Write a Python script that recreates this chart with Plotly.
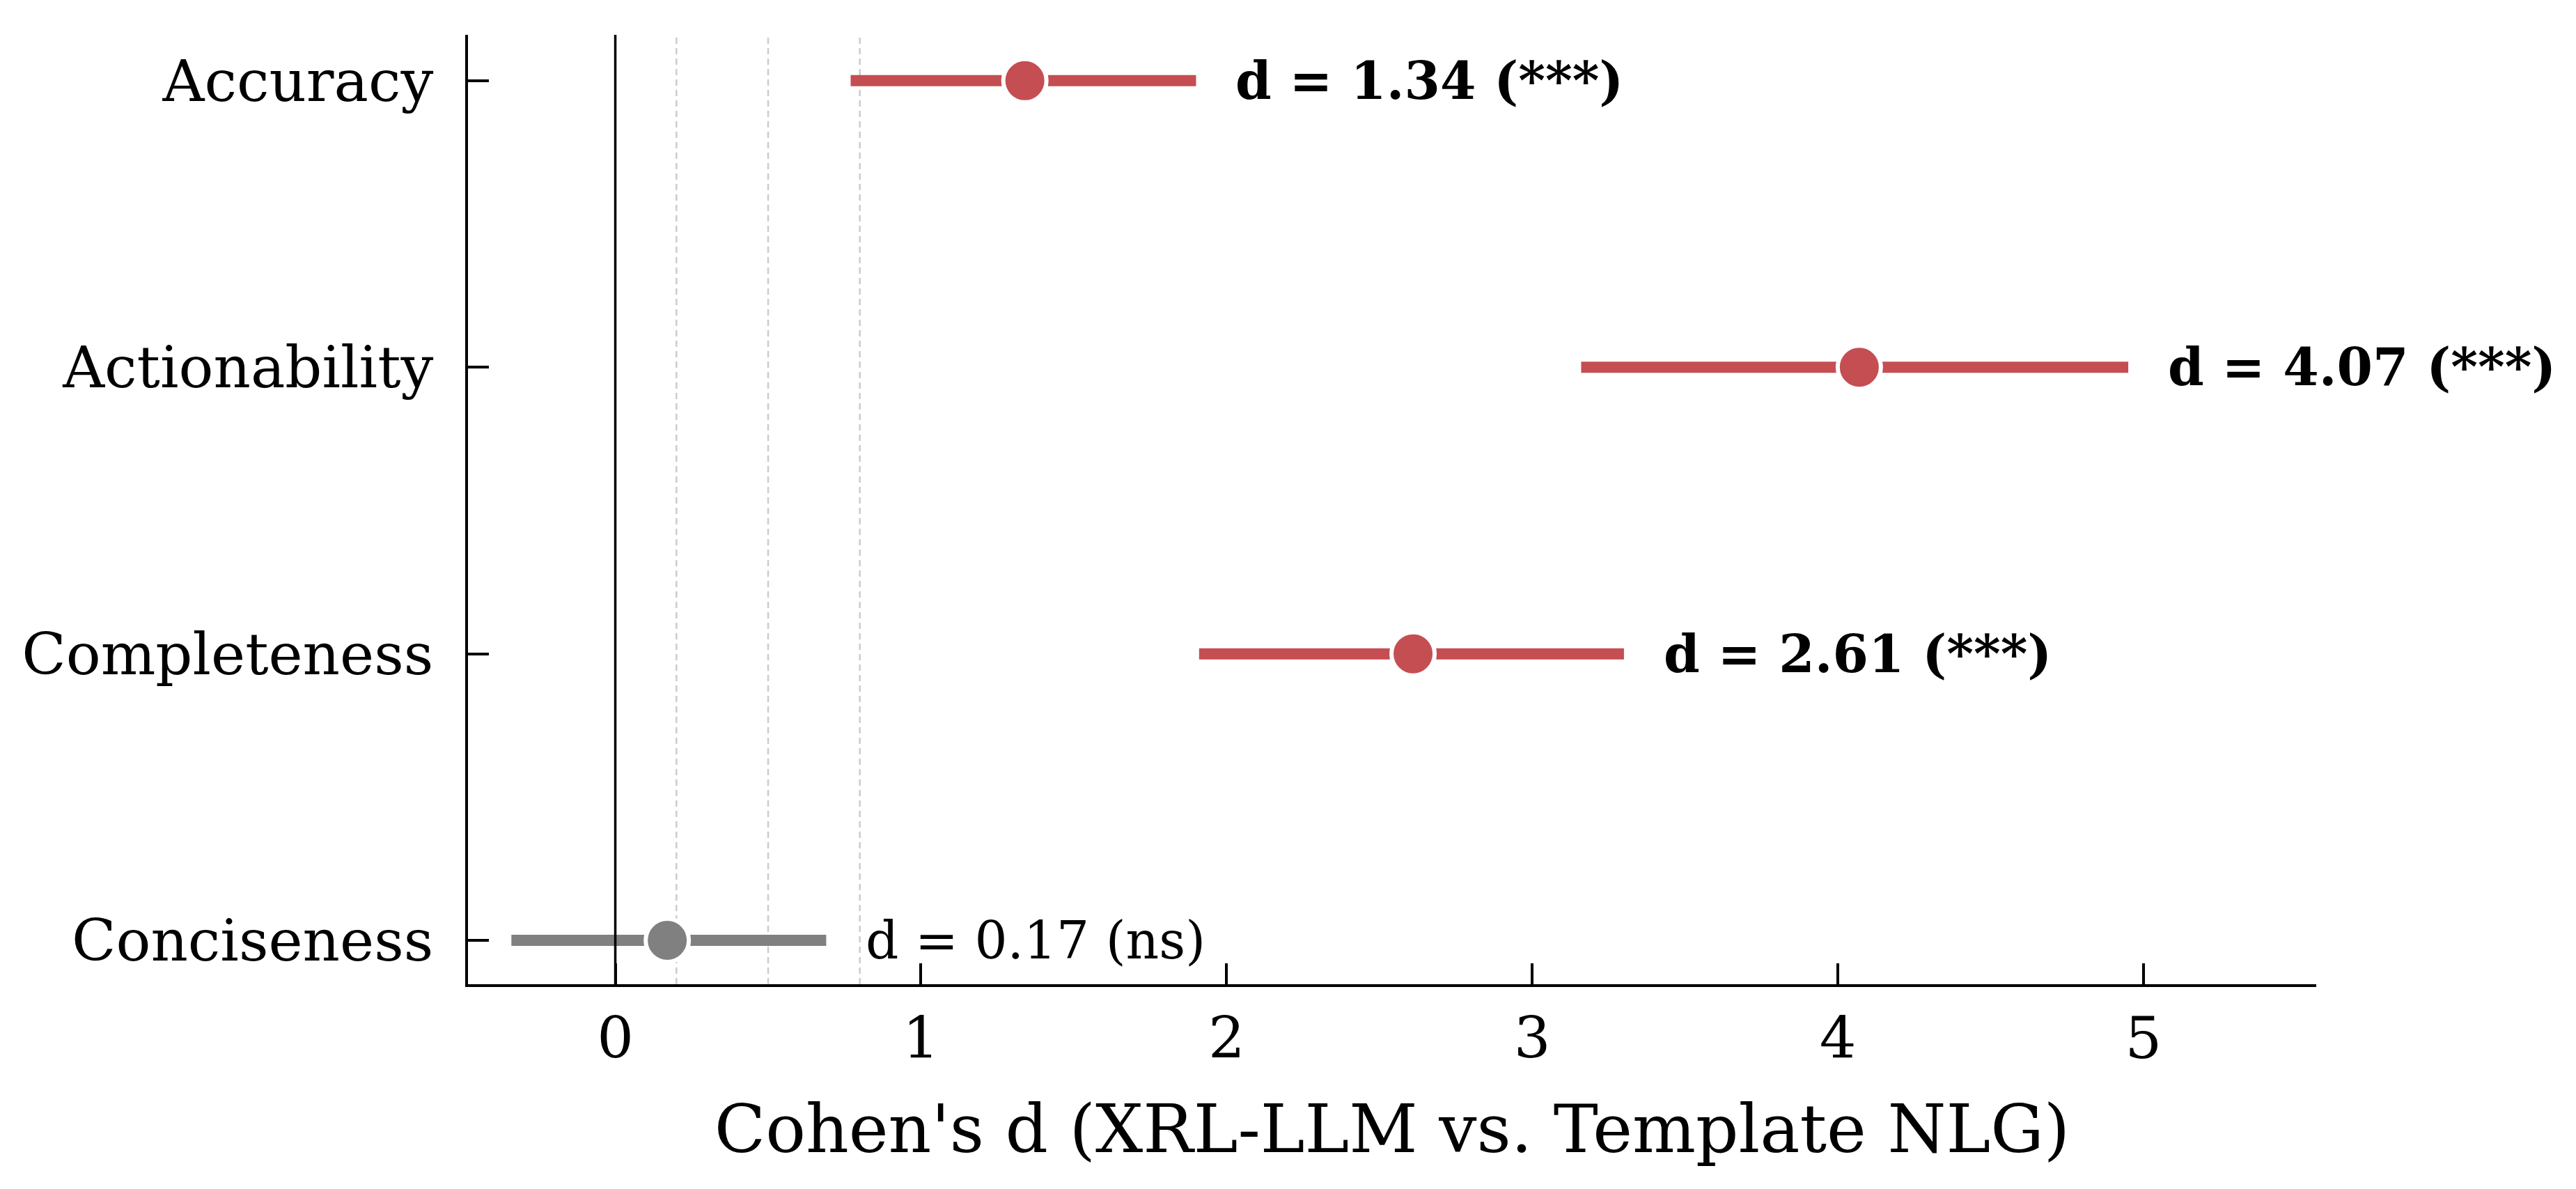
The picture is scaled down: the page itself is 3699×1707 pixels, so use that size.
import plotly.graph_objects as go

categories = ["Accuracy", "Actionability", "Completeness", "Conciseness"]
cohen_d = [1.34, 4.07, 2.61, 0.17]
ci_low = [0.77, 3.16, 1.91, -0.34]
ci_high = [1.90, 4.95, 3.30, 0.69]
significance = ["***", "***", "***", "ns"]
threshold_lines = [0.2, 0.5, 0.8]
x_ticks = [0, 1, 2, 3, 4, 5]

RED = "#C44E52"
GRAY = "#808080"
FONT = "DejaVu Serif"

fig = go.Figure()

for cat, d, lo, hi, sig in zip(categories, cohen_d, ci_low, ci_high, significance):
    col = GRAY if sig == "ns" else RED
    fig.add_trace(go.Scatter(
        x=[lo, hi], y=[cat, cat], mode="lines",
        line=dict(color=col, width=16), showlegend=False, hoverinfo="skip"))

for cat, d, lo, hi, sig in zip(categories, cohen_d, ci_low, ci_high, significance):
    col = GRAY if sig == "ns" else RED
    fig.add_trace(go.Scatter(
        x=[d], y=[cat], mode="markers",
        marker=dict(color=col, size=62, line=dict(color="white", width=6)),
        showlegend=False))
    label = f"d = {d:.2f} ({sig})"
    if sig != "ns":
        label = f"<b>{label}</b>"
    fig.add_annotation(
        x=hi + 0.125, y=cat, text=label, showarrow=False,
        xanchor="left", yanchor="middle",
        font=dict(family=FONT, size=74, color="black"))

for t in threshold_lines:
    fig.add_shape(type="line", xref="x", yref="paper", x0=t, x1=t, y0=0, y1=1,
                  line=dict(color="#cccccc", width=2.5, dash="9px,6px"), layer="below")

fig.add_shape(type="line", xref="x", yref="paper", x0=0, x1=0, y0=0, y1=1,
              line=dict(color="black", width=3.5), layer="above")

fig.update_layout(
    width=3699, height=1707,
    margin=dict(l=664, r=381, t=42, b=302),
    plot_bgcolor="white", paper_bgcolor="white",
    font=dict(family=FONT, color="black"),
    xaxis=dict(
        range=[-0.482, 5.565], tickvals=x_ticks, ticktext=[str(v) for v in x_ticks],
        showgrid=False, zeroline=False,
        showline=True, linecolor="black", linewidth=4,
        ticks="inside", ticklen=30, tickwidth=4, tickcolor="black",
        tickfont=dict(family=FONT, size=83),
        ticklabelstandoff=2,
        title=dict(text="Cohen's d (XRL-LLM vs. Template NLG)",
                   font=dict(family=FONT, size=96), standoff=50),
    ),
    yaxis=dict(
        type="category", categoryorder="array", categoryarray=categories,
        range=[3.153, -0.16],
        showgrid=False, zeroline=False,
        showline=True, linecolor="black", linewidth=4,
        ticks="inside", ticklen=30, tickwidth=4, tickcolor="black",
        tickfont=dict(family=FONT, size=83),
        ticklabelstandoff=29,
    ),
)

fig.write_html("out.html")
